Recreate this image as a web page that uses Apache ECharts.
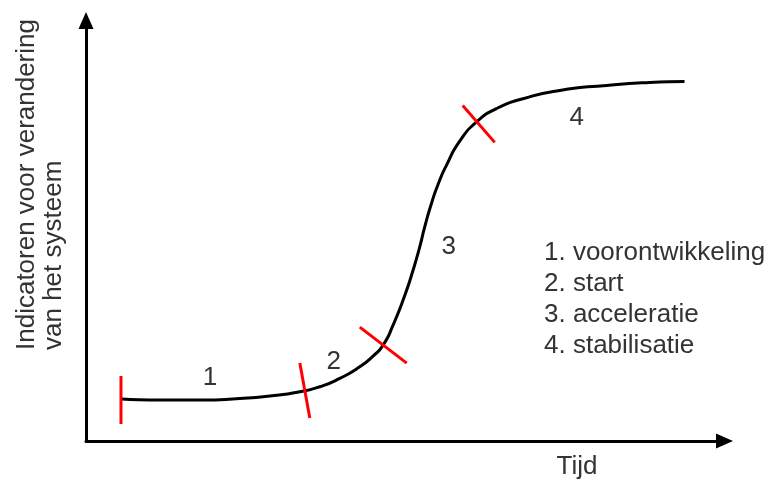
<!DOCTYPE html>
<html>
<head>
<meta charset="utf-8">
<script src="https://cdn.jsdelivr.net/npm/echarts@6/dist/echarts.min.js"></script>
<style>html,body{margin:0;padding:0;background:#fff}#c{width:771px;height:479px}</style>
</head>
<body>
<div id="c"></div>
<script>
// S-curve (time, indicator value) in arbitrary units 0..100
const curveTime  = [5.63, 11.58, 17.84, 24.10, 28.79, 33.49, 36.62, 39.75, 42.88, 44.96, 46.53, 48.09, 49.92, 51.22, 52.27, 53.05, 54.10, 55.13, 56.45, 58.53, 61.14, 64.27, 68.44, 74.18, 81.53, 88.26, 93.74];
const curveValue = [9.98, 9.74, 9.74, 10.10, 10.69, 11.71, 12.90, 14.89, 17.64, 20.19, 22.80, 27.55, 34.60, 40.62, 46.16, 50.91, 56.46, 61.00, 65.56, 71.30, 75.85, 79.03, 81.40, 83.37, 84.56, 85.27, 85.51];

// phase boundary markers: [time1, value1, time2, value2]
const boundaryMarks = [
  [5.48, 15.44, 5.48, 4.04],
  [33.49, 18.53, 35.05, 5.46],
  [42.88, 27.08, 50.23, 18.53],
  [59.00, 79.81, 64.01, 71.02]
];

// phase number labels
const phaseNames = ['1', '2', '3', '4'];
const phaseTime  = [19.41, 38.81, 56.81, 76.84];
const phaseValue = [14.96, 18.76, 46.08, 76.96];

const legendLines = ['1. voorontwikkeling', '2. start', '3. acceleratie', '4. stabilisatie'];
const xTitle = 'Tijd';
const yTitleLines = ['Indicatoren voor verandering', 'van het systeem'];

const FONT = '"Liberation Sans", Arial, sans-serif';
const TXT = '#333333';
const FS = 26;

const chart = echarts.init(document.getElementById('c'), null, {renderer: 'canvas'});

const series = [{
  type: 'line',
  data: curveTime.map((t, i) => [t, curveValue[i]]),
  smooth: 0.6,
  symbol: 'none',
  lineStyle: {color: '#000', width: 3},
  z: 3
}];
boundaryMarks.forEach(m => {
  series.push({
    type: 'line',
    data: [[m[0], m[1]], [m[2], m[3]]],
    symbol: 'none',
    lineStyle: {color: '#ff0000', width: 3},
    z: 4
  });
});
series.push({
  type: 'scatter',
  symbolSize: 0,
  itemStyle: {opacity: 1},
  data: phaseNames.map((n, i) => ({name: n, value: [phaseTime[i], phaseValue[i]]})),
  label: {
    show: true, position: 'inside', formatter: p => p.name,
    fontFamily: FONT, fontSize: FS, color: TXT, opacity: 1
  },
  z: 5
});

const axisCommon = {
  type: 'value', min: 0, max: 100,
  axisLine: {show: true, symbol: ['none', 'triangle'], symbolSize: [15, 17],
             lineStyle: {color: '#000', width: 3}},
  axisTick: {show: false}, axisLabel: {show: false}, splitLine: {show: false}
};

chart.setOption({
  animation: false,
  backgroundColor: '#fff',
  grid: {left: 86, right: 46.5, top: 20.5, bottom: 38},
  xAxis: Object.assign({}, axisCommon),
  yAxis: Object.assign({}, axisCommon),
  series: series,
  graphic: [
    {
      type: 'text', left: 544, top: 237,
      style: {text: legendLines.join('\n'), font: FS + 'px ' + FONT, fill: TXT, lineHeight: 31}
    },
    {
      type: 'text', x: 577, y: 467,
      style: {text: xTitle, font: FS + 'px ' + FONT, fill: TXT, textAlign: 'center', textVerticalAlign: 'middle'}
    },
    {
      type: 'text', x: 13, y: 350, rotation: Math.PI / 2,
      style: {text: yTitleLines.join('\n'), font: FS + 'px ' + FONT, fill: TXT,
              textAlign: 'left', textVerticalAlign: 'top', lineHeight: 27}
    }
  ]
});
</script>
</body>
</html>
